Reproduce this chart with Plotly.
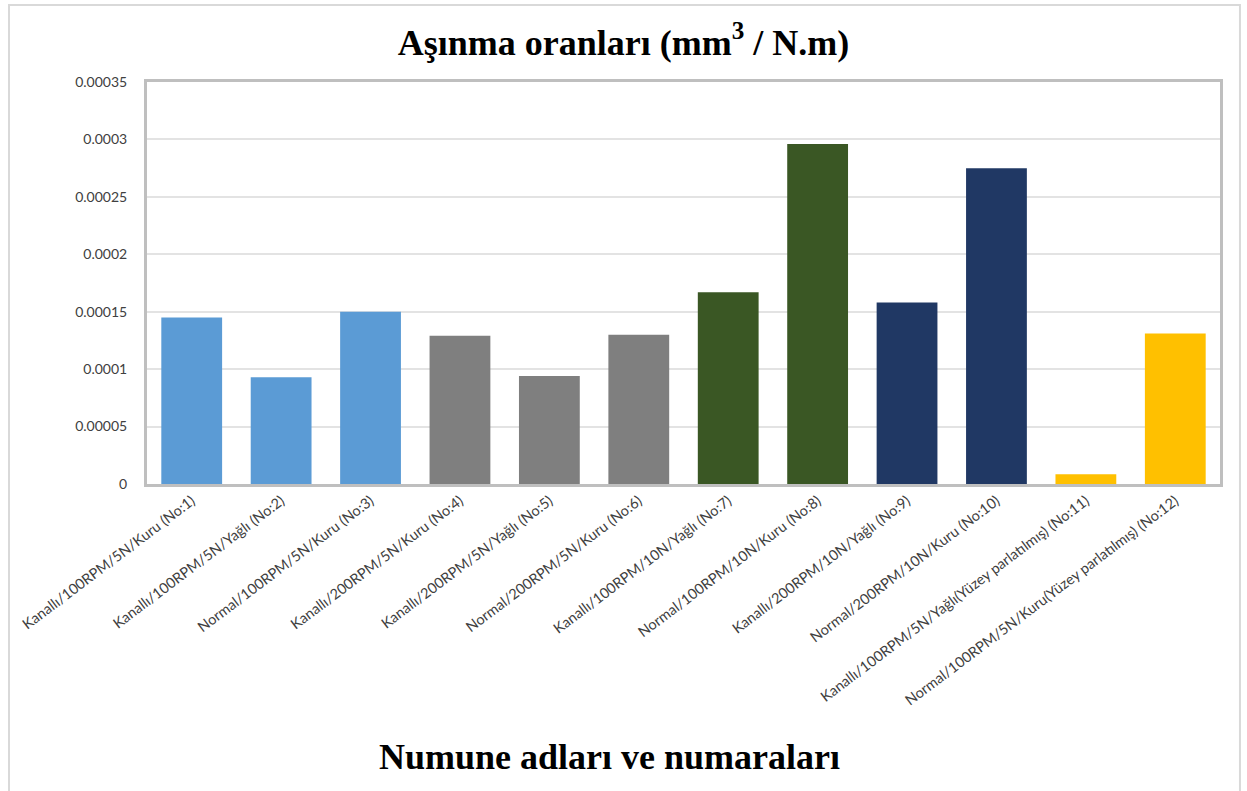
import plotly.graph_objects as go

# Sample names (x categories)
samples = [
    "Kanallı/100RPM/5N/Kuru (No:1)",
    "Kanallı/100RPM/5N/Yağlı (No:2)",
    "Normal/100RPM/5N/Kuru (No:3)",
    "Kanallı/200RPM/5N/Kuru (No:4)",
    "Kanallı/200RPM/5N/Yağlı (No:5)",
    "Normal/200RPM/5N/Kuru (No:6)",
    "Kanallı/100RPM/10N/Yağlı (No:7)",
    "Normal/100RPM/10N/Kuru (No:8)",
    "Kanallı/200RPM/10N/Yağlı (No:9)",
    "Normal/200RPM/10N/Kuru (No:10)",
    "Kanallı/100RPM/5N/Yağlı(Yüzey parlatılmış) (No:11)",
    "Normal/100RPM/5N/Kuru(Yüzey parlatılmış) (No:12)",
]

# Wear rates (mm^3 / N.m)
wear_rates = [
    0.000145, 0.000093, 0.000150,
    0.000129, 0.000094, 0.000130,
    0.000167, 0.000296,
    0.000158, 0.000275,
    0.0000085, 0.000131,
]

# Bar colours per sample group
bar_colors = [
    "#5B9BD5", "#5B9BD5", "#5B9BD5",
    "#7F7F7F", "#7F7F7F", "#7F7F7F",
    "#3A5724", "#3A5724",
    "#203864", "#203864",
    "#FFC000", "#FFC000",
]

y_ticks = [0, 0.00005, 0.0001, 0.00015, 0.0002, 0.00025, 0.0003, 0.00035]
y_tick_text = ["0", "0.00005", "0.0001", "0.00015", "0.0002", "0.00025", "0.0003", "0.00035"]

fig = go.Figure(
    go.Bar(
        x=samples,
        y=wear_rates,
        marker=dict(color=bar_colors, line=dict(width=0)),
        hovertemplate="%{x}<br>%{y}<extra></extra>",
    )
)

fig.update_layout(
    width=1247,
    height=791,
    paper_bgcolor="white",
    plot_bgcolor="white",
    margin=dict(l=147, r=27, t=82, b=307),
    bargap=0.32,
    showlegend=False,
    title=dict(
        text="<b>Aşınma oranları (mm<sup>3</sup> / N.m)</b>",
        x=0.5,
        xref="container",
        xanchor="center",
        y=0.947,
        yref="container",
        yanchor="middle",
        font=dict(family="Liberation Serif", size=36, color="black"),
    ),
    shapes=[
        dict(
            type="rect", xref="paper", yref="paper",
            x0=-0.1286, x1=1.0186, y0=-0.79, y1=1.1915,
            line=dict(color="#D9D9D9", width=2),
            fillcolor="rgba(0,0,0,0)", layer="below",
        )
    ],
    annotations=[
        dict(
            text="<b>Numune adları ve numaraları</b>",
            xref="paper", yref="paper",
            x=0.4306, y=-0.68,
            xanchor="center", yanchor="middle",
            showarrow=False,
            font=dict(family="Liberation Serif", size=36, color="black"),
        )
    ],
)

fig.update_xaxes(
    automargin=False,
    tickangle=-37,
    tickfont=dict(family="Lato", size=14.5, color="#404040"),
    showline=True,
    mirror=True,
    linecolor="#BFBFBF",
    linewidth=3,
    ticks="",
    showgrid=False,
)

fig.update_yaxes(
    automargin=False,
    range=[0, 0.00035],
    tickvals=y_ticks,
    ticktext=y_tick_text,
    tickfont=dict(family="Lato", size=14, color="#404040"),
    showline=True,
    mirror=True,
    linecolor="#BFBFBF",
    linewidth=3,
    showgrid=True,
    gridcolor="#E3E3E3",
    gridwidth=1.5,
    zeroline=False,
    ticks="",
    ticklabelstandoff=14,
)

fig.write_html("out.html")
